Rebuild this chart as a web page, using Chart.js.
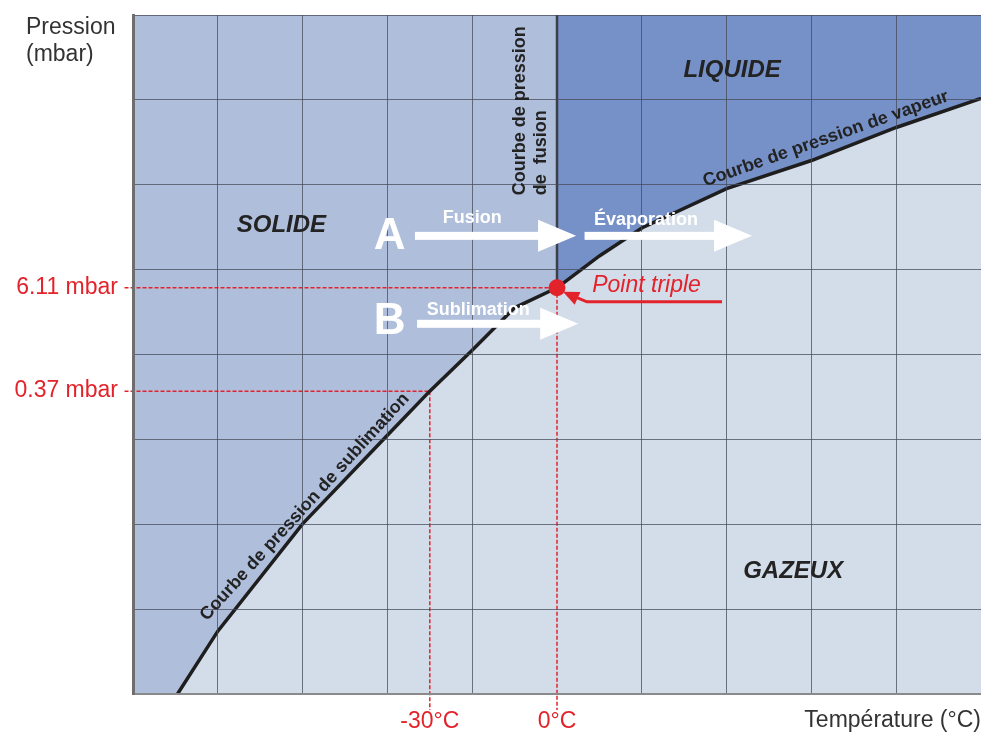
<!DOCTYPE html>
<html lang="fr">
<head>
<meta charset="utf-8">
<title>Diagramme de phase</title>
<script src="https://cdn.jsdelivr.net/npm/chart.js@4.4.1/dist/chart.umd.min.js"></script>
<style>
  html, body { margin: 0; padding: 0; background: #fff; }
  canvas { display: block; }
</style>
</head>
<body>
<canvas id="chart" width="981" height="734"></canvas>
<script>
// courbe de pression de sublimation (°C / mbar)
let sublimTemp = [-89.5, -80, -60, -40, -30, -20, -10, 0];
let sublimPres = [0.0001, 0.00055, 0.0101, 0.112, 0.37, 1.12, 3.55, 6.11];

// courbe de pression de vapeur
let vaporTemp = [0, 10, 20, 40, 60, 80, 100];
let vaporPres = [6.11, 14.5, 31, 90, 193, 473, 1040];

// point triple
let tripleTemp = 0;
let triplePres = 6.11;

// repères rouges
let markTemps = [-30, 0];
let markPres = [0.37, 6.11];

// graduations (grille)
let tempTicks = [-100, -80, -60, -40, -20, 0, 20, 40, 60, 80, 100];
let presTicks = [0.0001, 0.001, 0.01, 0.1, 1, 10, 100, 1000, 10000];

// transformations A et B (isobares)
let pressA = 25;
let pressB = 2.3;

let FONT = '"Liberation Sans", Arial, sans-serif';
let red = "#e3232b";
let solidCol = "#afbedb";
let liquidCol = "#7691c8";
let gasCol = "#d3dde9";
let gridCol = "rgba(70,75,88,0.75)";
let none = "rgba(0,0,0,0)";

function pts(xs, ys) {
  let out = [];
  for (let i = 0; i < xs.length; i++) out.push({ x: xs[i], y: ys[i] });
  return out;
}

function guide(points) {
  return {
    data: points, borderColor: red, borderWidth: 1.5, borderDash: [4, 2],
    pointRadius: 0, fill: false, clip: false
  };
}

function say(ctx, s, x, y, font, color, align, angle) {
  ctx.save();
  ctx.translate(x, y);
  if (angle) ctx.rotate(angle * Math.PI / 180);
  ctx.font = font;
  ctx.fillStyle = color;
  ctx.textAlign = align || "center";
  ctx.textBaseline = "middle";
  ctx.fillText(s, 0, 0);
  ctx.restore();
}

function bigArrow(ctx, x1, x2, y) {
  ctx.fillStyle = "#fff";
  ctx.fillRect(x1, y - 4, x2 - 38 - x1 + 1, 8);
  ctx.beginPath();
  ctx.moveTo(x2 - 38, y - 16);
  ctx.lineTo(x2, y);
  ctx.lineTo(x2 - 38, y + 16);
  ctx.closePath();
  ctx.fill();
}

let bgPlugin = {
  id: "bg",
  beforeDraw(chart) {
    let a = chart.chartArea, ctx = chart.ctx;
    ctx.save();
    ctx.fillStyle = "#fff";
    ctx.fillRect(0, 0, chart.width, chart.height);
    ctx.fillStyle = gasCol;
    ctx.fillRect(a.left, a.top, a.right - a.left, a.bottom - a.top);
    ctx.restore();
  }
};

let notesPlugin = {
  id: "notes",
  afterDraw(chart) {
    let ctx = chart.ctx;
    let sx = chart.scales.x, sy = chart.scales.y;
    let X = v => sx.getPixelForValue(v);
    let Y = v => sy.getPixelForValue(v);
    let dark = "#232323";

    say(ctx, "Pression", 26, 28, "23px " + FONT, "#333", "left");
    say(ctx, "(mbar)", 26, 55, "23px " + FONT, "#333", "left");

    say(ctx, "SOLIDE", X(-65), Y(33), "italic bold 24px " + FONT, dark);
    say(ctx, "LIQUIDE", X(41.3), Y(2200), "italic bold 24px " + FONT, dark);
    say(ctx, "GAZEUX", X(55.7), Y(0.0028), "italic bold 24px " + FONT, dark);

    // courbes
    say(ctx, "Courbe de pression", X(-8.7), Y(75), "bold 18px " + FONT, dark, "left", -90);
    say(ctx, "de  fusion", X(-3.8), Y(75), "bold 18px " + FONT, dark, "left", -90);
    say(ctx, "Courbe de pression de vapeur", X(63.4), Y(347), "bold 18px " + FONT, dark, "center", -19.4);
    say(ctx, "Courbe de pression de sublimation", X(-59.5), Y(0.016), "bold 18px " + FONT, dark, "center", -47.6);

    // A et B
    say(ctx, "A", X(-39.5), Y(pressA) + 1, "bold 44px " + FONT, "#fff");
    say(ctx, "B", X(-39.5), Y(pressB) - 2, "bold 44px " + FONT, "#fff");
    bigArrow(ctx, X(-33.5), X(4.5), Y(pressA));
    bigArrow(ctx, X(6.5), X(46), Y(pressA));
    bigArrow(ctx, X(-33), X(5), Y(pressB));
    say(ctx, "Fusion", X(-20), Y(pressA) - 18, "bold 18px " + FONT, "#fff");
    say(ctx, "Évaporation", X(21), Y(pressA) - 16, "bold 18px " + FONT, "#fff");
    say(ctx, "Sublimation", X(-18.6), Y(pressB) - 14, "bold 18px " + FONT, "#fff");

    // point triple
    let tx = X(tripleTemp), ty = Y(triplePres);
    say(ctx, "Point triple", X(8.3), ty - 2, "italic 23px " + FONT, red, "left");
    ctx.save();
    ctx.strokeStyle = red;
    ctx.fillStyle = red;
    ctx.lineWidth = 3;
    ctx.beginPath();
    ctx.moveTo(tx + 165, ty + 14);
    ctx.lineTo(tx + 30, ty + 14);
    ctx.lineTo(tx + 18, ty + 9);
    ctx.stroke();
    let ang = Math.atan2(-10, -22);
    let hx = tx + 6, hy = ty + 4;
    ctx.beginPath();
    ctx.moveTo(hx, hy);
    ctx.lineTo(hx - 16 * Math.cos(ang) + 7 * Math.sin(ang), hy - 16 * Math.sin(ang) - 7 * Math.cos(ang));
    ctx.lineTo(hx - 16 * Math.cos(ang) - 7 * Math.sin(ang), hy - 16 * Math.sin(ang) + 7 * Math.cos(ang));
    ctx.closePath();
    ctx.fill();
    ctx.restore();
  }
};

let allTemp = Array.from(new Set(tempTicks.concat(markTemps))).sort((a, b) => a - b);
let allPres = Array.from(new Set(presTicks.concat(markPres))).sort((a, b) => a - b);

let sublimLine = pts(sublimTemp, sublimPres);
let vaporLine = pts(vaporTemp, vaporPres);

// premier dataset = dessiné en dernier (au-dessus)
let datasets = [
  { data: [{ x: tripleTemp, y: triplePres }], showLine: false, pointRadius: 8.5,
    pointBackgroundColor: red, pointBorderWidth: 0, clip: false },
  { data: sublimLine, borderColor: "#1e1e1e", borderWidth: 3.5, pointRadius: 0, fill: false },
  { data: vaporLine, borderColor: "#1e1e1e", borderWidth: 3.5, pointRadius: 0, fill: false },
  { data: [{ x: tripleTemp, y: triplePres }, { x: tripleTemp, y: presTicks[presTicks.length - 1] }],
    borderColor: "#3d3f47", borderWidth: 2.5, pointRadius: 0, fill: false },
  guide([{ x: -102, y: markPres[1] }, { x: markTemps[1], y: markPres[1] }]),
  guide([{ x: -102, y: markPres[0] }, { x: markTemps[0], y: markPres[0] }]),
  guide([{ x: markTemps[1], y: markPres[1] }, { x: markTemps[1], y: 0.000065 }]),
  guide([{ x: markTemps[0], y: markPres[0] }, { x: markTemps[0], y: 0.000065 }]),
  { data: vaporLine, borderWidth: 0, pointRadius: 0, fill: "end", backgroundColor: liquidCol },
  { data: [{ x: tempTicks[0], y: presTicks[0] }].concat(sublimLine), borderWidth: 0,
    pointRadius: 0, fill: "end", backgroundColor: solidCol }
];

new Chart(document.getElementById("chart"), {
  type: "line",
  data: { datasets: datasets },
  options: {
    responsive: false,
    animation: false,
    layout: { autoPadding: false, padding: { top: 15, right: 0, bottom: 0, left: 0 } },
    plugins: { legend: { display: false }, tooltip: { enabled: false } },
    scales: {
      x: {
        type: "linear", min: -100, max: 100,
        afterBuildTicks: axis => { axis.ticks = allTemp.map(v => ({ value: v })); },
        afterFit: axis => {
          axis.height = 40;
          axis.paddingLeft = 0;
          axis.paddingRight = 0;
        },
        grid: {
          color: c => (c.tick && markTemps.includes(c.tick.value)) ? none : gridCol,
          lineWidth: 1, drawTicks: false, z: 1
        },
        border: { color: "#8a8a8a", width: 2, z: 2 },
        ticks: {
          autoSkip: false, maxRotation: 0, padding: 14, color: red,
          font: { family: FONT, size: 23 },
          callback: v => markTemps.includes(v) ? v + "°C" : ""
        },
        title: {
          display: true, text: "Température (°C)", align: "end", color: "#333",
          font: { family: FONT, size: 23 }, padding: { top: 0, bottom: 0 }
        }
      },
      y: {
        type: "logarithmic", min: presTicks[0], max: presTicks[presTicks.length - 1],
        afterBuildTicks: axis => { axis.ticks = allPres.map(v => ({ value: v })); },
        afterFit: axis => {
          axis.width = 133;
          axis.paddingTop = 0;
          axis.paddingBottom = 0;
        },
        grid: {
          color: c => (c.tick && markPres.includes(c.tick.value)) ? none : gridCol,
          lineWidth: 1, drawTicks: false, z: 1
        },
        border: { color: "#6e6e6e", width: 3, z: 2 },
        ticks: {
          autoSkip: false, padding: 15, color: red,
          font: { family: FONT, size: 23 },
          callback: v => markPres.includes(v) ? v.toFixed(2) + " mbar" : ""
        }
      }
    }
  },
  plugins: [bgPlugin, notesPlugin]
});
</script>
</body>
</html>
